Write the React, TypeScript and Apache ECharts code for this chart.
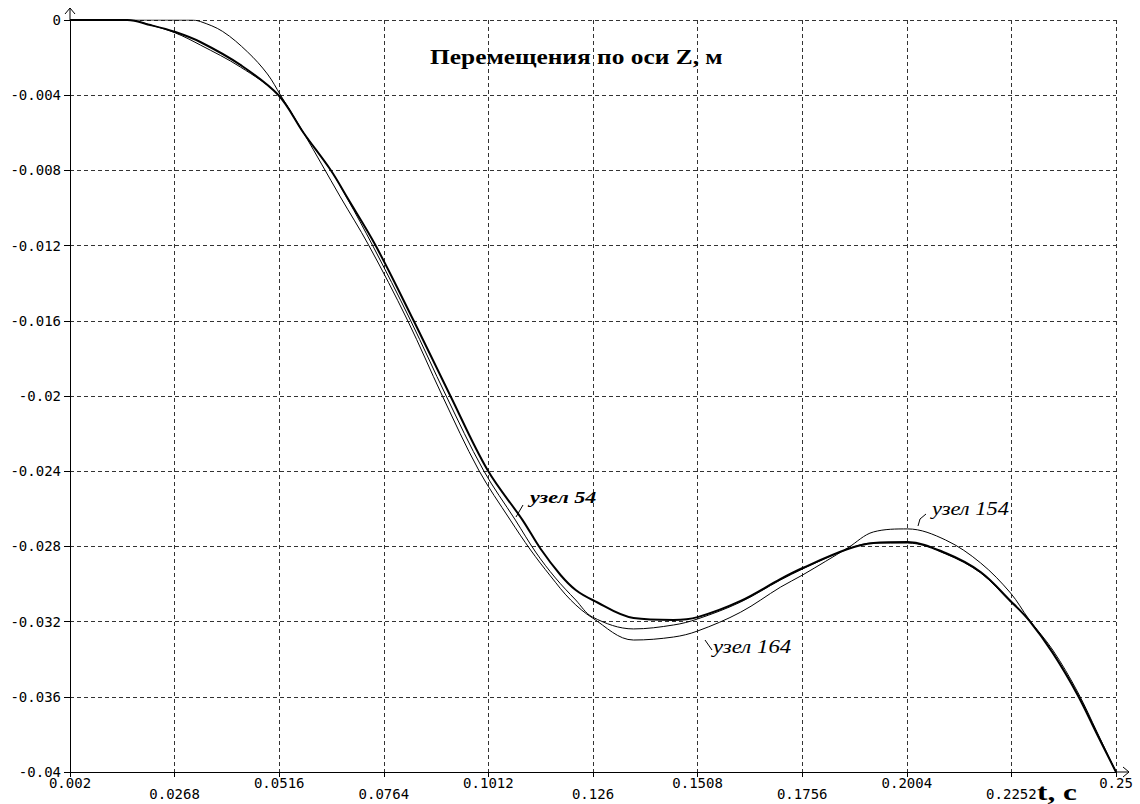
import React, { useEffect, useRef } from "react";
import * as echarts from "echarts";

// Time axis: first tick and step (s)
const T0 = 0.002;
const T_STEP = 0.0248;
const X_TICKS = ["0.002", "0.0268", "0.0516", "0.0764", "0.1012", "0.126", "0.1508", "0.1756", "0.2004", "0.2252", "0.25"];
const Y_TICKS = ["0", "-0.004", "-0.008", "-0.012", "-0.016", "-0.02", "-0.024", "-0.028", "-0.032", "-0.036", "-0.04"];

// Displacement along Z (m) versus time (s)
const node54: [number, number][] = [
  [0.002, 0], [0.0156, 0], [0.0211, -0.00027], [0.027, -0.00064], [0.0329, -0.00117],
  [0.0424, -0.00239], [0.0514, -0.00399], [0.0574, -0.00601], [0.0638, -0.00798],
  [0.0678, -0.00947], [0.0744, -0.01197], [0.0834, -0.01596], [0.0922, -0.02],
  [0.101, -0.02394], [0.1093, -0.0266], [0.1136, -0.02814], [0.1183, -0.02952],
  [0.1219, -0.03032], [0.1259, -0.03085], [0.1356, -0.03181], [0.1451, -0.03191],
  [0.1508, -0.03176], [0.161, -0.0309], [0.1705, -0.02973], [0.1757, -0.02915],
  [0.1864, -0.02814], [0.1925, -0.02782], [0.2006, -0.02777], [0.2096, -0.02835],
  [0.2179, -0.02936], [0.225, -0.0309], [0.2293, -0.03191], [0.235, -0.03367],
  [0.2409, -0.0359], [0.2456, -0.03803], [0.25, -0.04],
];

const node164: [number, number][] = [
  [0.002, 0], [0.0156, 0], [0.0211, -0.00027], [0.027, -0.00069], [0.0329, -0.00133],
  [0.0424, -0.0025], [0.0514, -0.00399], [0.0574, -0.00601], [0.0638, -0.00798],
  [0.0678, -0.00952], [0.0737, -0.01197], [0.0827, -0.01596], [0.0912, -0.02],
  [0.1, -0.02394], [0.1076, -0.0266], [0.1124, -0.0283], [0.1171, -0.02968],
  [0.1219, -0.03085], [0.1259, -0.03176], [0.1356, -0.03239], [0.1451, -0.03218],
  [0.1508, -0.03186], [0.161, -0.03096], [0.1705, -0.02978], [0.1757, -0.0292],
  [0.1864, -0.02814], [0.1925, -0.02782], [0.2006, -0.02782], [0.2096, -0.0284],
  [0.2179, -0.02941], [0.225, -0.03096], [0.2293, -0.03191], [0.235, -0.03362],
  [0.2409, -0.03585], [0.2456, -0.03798], [0.25, -0.04],
];

const node154: [number, number][] = [
  [0.002, 0], [0.0306, 0], [0.0329, -0.00008], [0.0382, -0.00061], [0.0441, -0.0017],
  [0.0488, -0.00287], [0.0519, -0.00399], [0.0574, -0.00601], [0.0661, -0.00941],
  [0.0728, -0.01197], [0.082, -0.01596], [0.0903, -0.02], [0.0989, -0.02394],
  [0.1064, -0.0266], [0.1112, -0.02819], [0.1159, -0.02957], [0.1207, -0.03085],
  [0.1259, -0.03181], [0.1356, -0.03298], [0.1451, -0.03282], [0.1508, -0.0325],
  [0.161, -0.0315], [0.1705, -0.03016], [0.1757, -0.02952], [0.1864, -0.02808],
  [0.1925, -0.02723], [0.2006, -0.02707], [0.2096, -0.02766], [0.2179, -0.02888],
  [0.225, -0.03048], [0.2293, -0.03186], [0.235, -0.03351], [0.2409, -0.03574],
  [0.2456, -0.03792], [0.25, -0.04],
];

// time -> tick-step units so that the grid starts at T0
const toAxis = (pts: [number, number][]) => pts.map(([t, z]) => [(t - T0) / T_STEP, z]);

const MONO = '"DejaVu Sans Mono", monospace';
const SERIF = '"Liberation Serif", "Times New Roman", serif';

export default function App() {
  const ref = useRef<HTMLDivElement>(null);

  useEffect(() => {
    if (!ref.current) return;
    const chart = echarts.init(ref.current, undefined, { renderer: "svg" });

    const lineSeries = (name: string, pts: [number, number][], width: number) => ({
      type: "line",
      name,
      data: toAxis(pts),
      showSymbol: false,
      smooth: 0.35,
      lineStyle: { color: "#000", width },
      z: 5,
    });

    // wide serif caption, stretched horizontally
    const caption = (text: string, x: number, y: number, font: string, scaleX: number) => ({
      type: "text",
      x,
      y,
      scaleX,
      style: { text, font, fill: "#000", align: "left", verticalAlign: "middle" },
      z: 10,
    });

    chart.setOption({
      animation: false,
      backgroundColor: "#fff",
      grid: { left: 70, right: 24, top: 20, bottom: 32, containLabel: false },
      xAxis: {
        type: "value",
        min: 0,
        max: X_TICKS.length - 1,
        interval: 1,
        axisLine: { show: true, onZero: false, lineStyle: { color: "#000", width: 1 } },
        axisTick: { show: true, length: 5, lineStyle: { color: "#000" } },
        splitLine: { show: true, lineStyle: { color: "#333", type: [4, 3], width: 1 } },
        axisLabel: {
          show: true,
          margin: 5,
          fontFamily: MONO,
          fontSize: 14,
          lineHeight: 11,
          color: "#000",
          hideOverlap: false,
          showMinLabel: true,
          showMaxLabel: true,
          formatter: (v: number) => {
            const i = Math.round(v);
            return i % 2 === 1 ? "\n" + X_TICKS[i] : X_TICKS[i];
          },
        },
      },
      yAxis: {
        type: "value",
        min: -0.04,
        max: 0,
        interval: 0.004,
        axisLine: { show: true, lineStyle: { color: "#000", width: 1 } },
        axisTick: { show: true, length: 6, lineStyle: { color: "#000" } },
        splitLine: { show: true, lineStyle: { color: "#333", type: [4, 3], width: 1 } },
        axisLabel: {
          margin: 9,
          fontFamily: MONO,
          fontSize: 14,
          color: "#000",
          formatter: (v: number) => Y_TICKS[Math.round(-v / 0.004)] ?? "",
        },
      },
      series: [
        lineSeries("узел 154", node154, 1),
        lineSeries("узел 164", node164, 1),
        lineSeries("узел 54", node54, 2),
      ],
      graphic: [
        // axis arrows
        { type: "line", shape: { x1: 70, y1: 20, x2: 70, y2: 8 }, style: { stroke: "#000", lineWidth: 1 } },
        { type: "polyline", shape: { points: [[65, 14], [70, 8], [75, 14]] }, style: { stroke: "#000", lineWidth: 1, fill: null } },
        { type: "line", shape: { x1: 1116, y1: 772, x2: 1129, y2: 772 }, style: { stroke: "#000", lineWidth: 1 } },
        { type: "polyline", shape: { points: [[1123, 767], [1129, 772], [1123, 777]] }, style: { stroke: "#000", lineWidth: 1, fill: null } },
        // title and axis name
        caption("Перемещения по оси Z, м", 430, 57, `bold 20px ${SERIF}`, 1.27),
        caption("t, с", 1037, 792, `bold 24px ${SERIF}`, 1.3),
        // curve annotations
        caption("узел 54", 530, 497, `italic bold 17px ${SERIF}`, 1.3),
        { type: "line", shape: { x1: 516, y1: 517, x2: 523, y2: 505 }, style: { stroke: "#000", lineWidth: 1 } },
        caption("узел 154", 932, 509, `italic 18px ${SERIF}`, 1.25),
        { type: "polyline", shape: { points: [[918, 526], [920, 519], [926, 514]] }, style: { stroke: "#000", lineWidth: 1, fill: null } },
        caption("узел 164", 713, 647, `italic 18px ${SERIF}`, 1.27),
        { type: "line", shape: { x1: 705, y1: 640, x2: 712, y2: 650 }, style: { stroke: "#000", lineWidth: 1 } },
      ],
    });

    return () => chart.dispose();
  }, []);

  return <div ref={ref} style={{ position: "absolute", left: 0, top: 0, width: 1140, height: 804, background: "#fff" }} />;
}
